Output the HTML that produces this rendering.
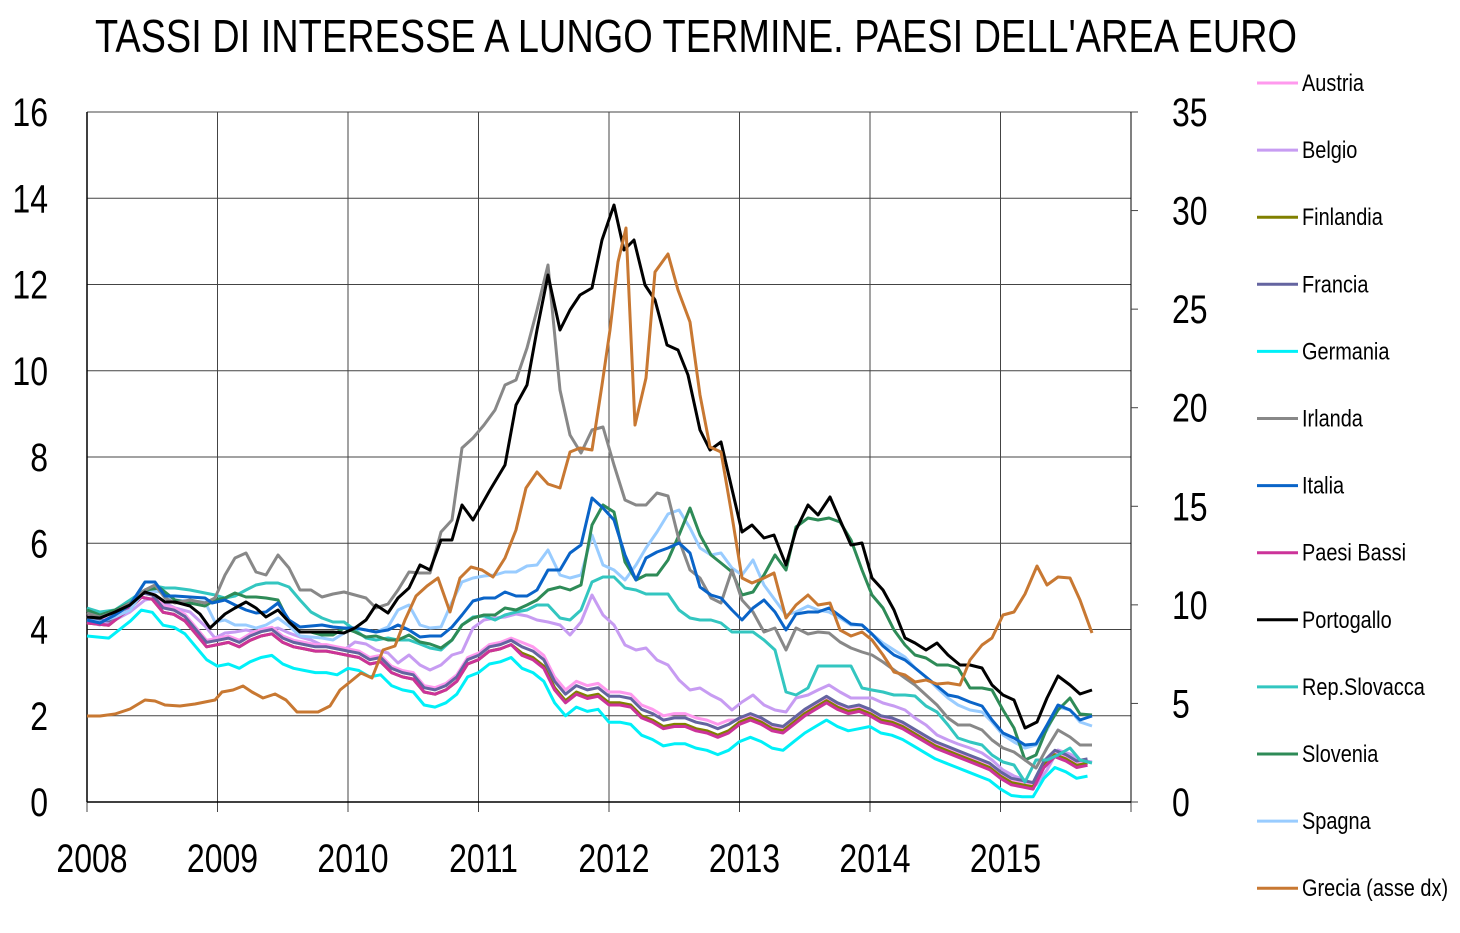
<!DOCTYPE html>
<html><head><meta charset="utf-8"><style>
body{margin:0;background:#fff;}
svg{display:block;font-family:"Liberation Sans",sans-serif;}
</style></head><body>
<svg id="s" width="1460" height="933" xmlns="http://www.w3.org/2000/svg"></svg>
<script>
const S=document.getElementById('s');
let h='';
const X0=87,X1=1131,Y0=802,YT=112;
const mx=m=>X0+m*(X1-X0)/96;
const yl=v=>Y0-v*(Y0-YT)/16;
for(let i=0;i<=8;i++){h+=`<line x1="${X0}" y1="${yl(i*2)}" x2="${X1}" y2="${yl(i*2)}" stroke="#444" stroke-width="1"/>`;}
for(let i=0;i<=8;i++){const x=X0+i*(X1-X0)/8;h+=`<line x1="${x}" y1="${YT}" x2="${x}" y2="${Y0+10}" stroke="#444" stroke-width="1"/>`;}
h+=`<line x1="${X0}" y1="${YT}" x2="${X0}" y2="${Y0}" stroke="#000" stroke-width="1.5"/>`;
h+=`<line x1="${X1}" y1="${YT}" x2="${X1}" y2="${Y0}" stroke="#000" stroke-width="1"/>`;
h+=`<line x1="${X0}" y1="${Y0}" x2="${X1}" y2="${Y0}" stroke="#000" stroke-width="1.5"/>`;
for(let i=0;i<=7;i++){const y=Y0-i*5*(Y0-YT)/35;h+=`<line x1="${X1}" y1="${y}" x2="${X1+7}" y2="${y}" stroke="#444"/>`;}
const T=(x,y,s,t,anchor,fs,sx)=>`<text transform="translate(${x},${y}) scale(${sx},1)" text-anchor="${anchor}" font-size="${fs}" fill="#000">${t}</text>`;
for(let i=0;i<=8;i++)h+=T(48,yl(i*2)+14,1,i*2,'end',40,0.8);
for(let i=0;i<=7;i++){const y=Y0-i*5*(Y0-YT)/35;h+=T(1172,y+14,1,i*5,'start',40,0.8);}
for(let i=0;i<=7;i++){const x=X0+i*(X1-X0)/8+5;h+=T(x,872,1,2008+i,'middle',40,0.8);}
h+=`<text x="95" y="52" font-size="46" textLength="1202" lengthAdjust="spacingAndGlyphs">TASSI DI INTERESSE A LUNGO TERMINE. PAESI DELL'AREA EURO</text>`;
function poly(pts,c,w){h+=`<polyline points="${pts}" fill="none" stroke="${c}" stroke-width="${w||3}" stroke-linejoin="round"/>`;}
const base={0:4.15,2:4.1,4:4.5,5:4.75,6:4.7,7:4.4,8:4.35,9:4.2,10:3.9,11:3.6,12:3.65,13:3.7,14:3.6,15:3.75,16:3.85,17:3.9,18:3.7,19:3.6,20:3.55,21:3.5,22:3.5,23:3.45,24:3.4,25:3.35,26:3.2,27:3.25,28:3.0,29:2.9,30:2.85,31:2.55,32:2.5,33:2.6,34:2.8,35:3.2,36:3.3,37:3.5,38:3.55,39:3.65,40:3.4,41:3.3,42:3.1,43:2.6,44:2.3,45:2.5,46:2.4,47:2.45,48:2.25,49:2.25,50:2.2,51:1.95,52:1.85,53:1.7,54:1.75,55:1.75,56:1.65,57:1.6,58:1.5,59:1.6,60:1.8,61:1.9,62:1.8,63:1.65,64:1.6,65:1.8,66:2.0,67:2.15,68:2.3,69:2.15,70:2.05,71:2.1,72:2.0,73:1.85,74:1.8,75:1.7,76:1.55,77:1.4,78:1.25,79:1.15,80:1.05,81:0.95,82:0.85,83:0.75,84:0.55,85:0.4,86:0.35,87:0.3,88:0.8,89:1.05,90:0.95,91:0.8,92:0.85};
function cl(off,c){let p=[];for(const k in base){const m=+k;let o=typeof off==='function'?off(m):off;p.push(mx(m).toFixed(1)+','+yl(Math.max(0.12,base[k]+o)).toFixed(1));}poly(p.join(' '),c);}
const P=(s,c)=>poly(s,c);
P("87,622 100,625 115,620 130,612 145,600 155,598 165,603 175,608 190,612 205,626 215,638 225,633 235,632 246,630 256,632 266,630 278,628 289,633 300,637 311,640 322,645 333,648 344,650 355,642 366,644 376,650 388,653 398,663 409,655 420,665 430,670 441,665 452,655 462,652 473,628 484,620 495,618 505,617 516,614 527,616 537,620 548,622 560,625 570,635 581,622 592,595 603,615 614,625 625,645 636,650 646,648 657,660 668,665 679,680 690,690 700,688 711,695 721,700 732,710 742,702 753,695 764,705 775,710 786,712 796,698 808,695 818,690 829,685 840,692 851,698 862,698 872,698 883,703 894,706 905,710 915,718 926,725 937,735 948,740 958,744 970,748 982,753 992,760 1003,770 1014,776 1025,780 1036,785 1047,770 1058,750 1070,754 1080,760 1092,762","#c79cf2");
cl(m=>m<40?0.15:(m<60?0.3:0.1),"#ff99ee");
cl(m=>m<12?-0.3:(m<24?-0.5:(m<48?-0.3:(m<72?-0.4:-0.25))),"#00f0f8");
cl(m=>m<40?0:0.05,"#808000");
cl(m=>m<40?0.1:(m<60?0.2:0.15),"#6464a0");
cl(0,"#cc3399");
P("87,608 100,612 115,610 130,600 145,590 155,586 165,588 175,588 190,590 205,593 215,595 225,598 235,596 246,590 256,585 266,583 278,583 289,587 300,600 311,612 322,618 333,622 344,622 355,630 366,638 376,640 388,638 398,640 409,640 420,644 430,648 441,650 452,640 462,625 473,617 484,616 495,620 505,615 516,612 527,610 537,605 548,605 560,618 570,620 581,610 592,582 603,577 614,577 625,588 636,590 646,594 657,594 668,594 679,610 690,618 700,620 711,620 721,623 732,632 742,632 753,632 764,640 775,650 786,692 796,695 808,688 818,666 829,666 840,666 851,666 862,688 872,690 883,692 894,695 905,695 915,696 926,706 937,712 948,725 958,738 970,742 982,745 992,755 1003,762 1014,765 1025,782 1036,760 1047,760 1058,755 1070,748 1080,760 1092,763","#33c6c0");
P("87,620 100,622 115,617 130,610 145,590 160,592 175,600 190,601 205,602 215,622 225,620 235,625 246,625 256,628 266,625 278,618 289,626 300,636 311,637 322,638 333,640 344,633 355,628 366,630 376,632 388,627 398,610 409,605 420,625 430,628 441,627 452,602 462,582 473,578 484,576 495,575 505,572 516,572 527,566 537,565 548,550 560,575 570,578 581,575 592,535 603,565 614,570 625,580 636,565 646,548 657,532 668,514 679,510 690,528 700,548 711,555 721,553 732,568 742,575 753,560 764,585 775,600 786,615 796,612 808,606 818,610 829,612 840,618 851,625 862,625 872,634 883,643 894,650 905,657 915,668 926,677 937,688 948,698 958,705 970,710 982,712 992,722 1003,735 1014,742 1025,748 1036,745 1047,730 1058,707 1070,710 1080,722 1092,726","#99ccff");
P("87,610 100,615 115,610 130,603 145,590 160,588 175,600 190,603 205,606 215,600 225,598 235,593 246,597 256,597 266,598 278,600 289,622 300,632 311,632 322,635 333,635 344,628 355,632 366,637 376,636 388,640 398,640 409,635 420,642 430,644 441,648 452,640 462,625 473,618 484,615 495,615 505,608 516,610 527,605 537,600 548,590 560,587 570,590 581,585 592,525 603,505 614,512 625,562 636,580 646,575 657,575 668,560 679,535 690,508 700,535 711,555 721,563 732,572 742,595 753,592 764,575 775,555 786,570 796,527 808,518 818,520 829,518 840,522 851,540 862,570 872,595 883,608 894,630 905,645 915,655 926,658 937,665 948,665 958,668 970,688 982,688 992,690 1003,710 1014,728 1025,760 1036,755 1047,728 1058,710 1070,698 1080,714 1092,715","#2e8b57");
P("87,613 100,617 115,612 130,603 145,590 155,585 165,598 175,603 190,600 205,603 215,598 225,575 235,558 246,553 256,572 266,575 278,555 289,568 300,590 311,590 322,597 333,594 344,592 355,595 366,598 376,608 388,604 398,590 409,572 420,573 430,573 441,532 452,520 462,448 473,438 484,425 495,410 505,385 516,380 527,348 537,310 548,265 560,390 570,435 581,453 592,430 603,427 614,465 625,500 636,505 646,505 657,493 668,496 679,540 690,570 700,578 711,598 721,603 732,570 742,600 753,612 764,632 775,628 786,650 796,628 808,634 818,632 829,633 840,642 851,648 862,652 872,655 883,662 894,670 905,678 915,685 926,695 937,705 948,718 958,725 970,725 982,730 992,740 1003,748 1014,752 1025,760 1036,768 1047,748 1058,730 1070,737 1080,745 1092,745","#888888");
P("87,620 100,623 115,615 130,605 145,582 155,582 165,596 175,596 190,597 205,598 212,603 225,600 235,605 246,610 256,613 266,612 278,603 289,620 300,627 311,626 322,625 333,627 344,628 355,628 366,630 376,632 388,630 398,625 409,630 420,637 430,636 441,636 452,627 462,615 473,601 484,598 495,598 505,592 516,596 527,596 537,590 548,570 560,570 570,553 581,545 592,498 603,508 614,520 625,555 636,580 646,558 657,552 668,548 679,543 690,553 700,587 711,595 721,598 732,610 742,620 753,608 764,600 775,612 786,630 796,614 808,612 818,612 829,608 840,616 851,624 862,625 872,634 883,646 894,655 905,660 915,668 926,677 937,686 948,695 958,697 970,702 982,706 992,720 1003,733 1014,738 1025,745 1036,744 1047,725 1058,705 1070,710 1080,720 1092,716","#0a64c8");
P("87,617 100,618 115,612 130,605 145,592 155,595 165,602 175,602 190,606 200,614 210,628 225,614 235,608 246,602 256,608 266,617 278,610 289,622 300,632 311,632 322,632 333,632 344,633 355,628 366,620 376,605 388,613 398,598 409,588 420,565 430,570 441,540 452,540 462,505 473,520 490,490 505,465 516,405 527,385 537,330 548,275 560,330 570,310 580,295 592,288 602,240 614,205 624,250 634,240 645,285 655,300 667,345 678,350 688,375 700,430 710,450 721,442 731,485 742,532 752,525 764,538 774,535 786,565 796,530 808,505 818,515 830,497 840,520 851,545 862,543 872,578 883,590 894,610 905,638 915,643 926,650 937,643 948,655 960,665 970,665 982,668 992,685 1003,695 1014,700 1025,728 1037,722 1047,698 1058,676 1070,685 1080,694 1092,690","#000");
P("87,716 100,716 115,714 130,709 145,700 155,701 165,705 180,706 195,704 205,702 215,700 222,692 233,690 243,686 252,692 263,698 275,694 286,700 297,712 308,712 318,712 330,706 340,690 350,682 361,673 372,678 383,650 395,646 405,620 416,596 427,586 438,578 450,612 460,578 471,567 482,570 493,577 505,558 516,530 526,488 537,472 548,484 560,488 570,452 580,448 592,450 602,385 610,330 618,262 626,228 635,425 646,378 655,272 668,254 678,290 690,322 700,395 710,447 721,452 731,510 742,578 752,583 764,578 774,573 786,618 796,605 808,595 818,605 830,603 840,630 851,636 862,632 872,640 883,655 894,672 905,675 915,682 926,680 937,684 948,683 960,685 970,660 982,645 992,638 1003,615 1014,612 1025,594 1037,566 1047,585 1058,577 1070,578 1080,600 1092,633","#c87832");
const L=[["Austria","#ff99ee"],["Belgio","#c79cf2"],["Finlandia","#808000"],["Francia","#6464a0"],["Germania","#00f0f8"],["Irlanda","#888888"],["Italia","#0a64c8"],["Paesi Bassi","#cc3399"],["Portogallo","#000"],["Rep.Slovacca","#33c6c0"],["Slovenia","#2e8b57"],["Spagna","#99ccff"],["Grecia (asse dx)","#c87832"]];
L.forEach((l,i)=>{const y=83+i*67.1;h+=`<line x1="1257" y1="${y}" x2="1298" y2="${y}" stroke="${l[1]}" stroke-width="3"/>`;h+=T(1302,y+8,1,l[0],'start',24,0.83);});
S.innerHTML=h;
</script>
</body></html>
